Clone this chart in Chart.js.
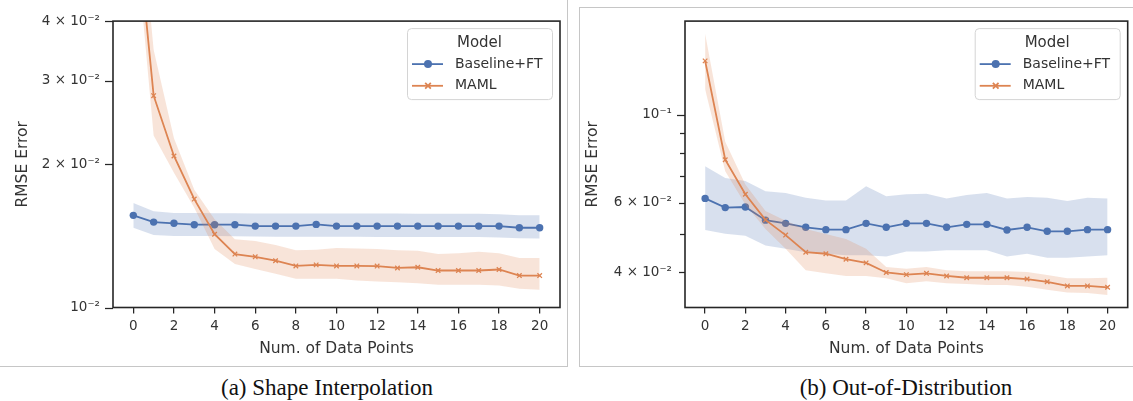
<!DOCTYPE html>
<html>
<head>
<meta charset="utf-8">
<script src="https://cdn.jsdelivr.net/npm/chart.js@4.4.1/dist/chart.umd.min.js"></script>
<style>
  html, body { margin: 0; padding: 0; background: #fff; }
  body { position: relative; width: 1133px; height: 401px; overflow: hidden; }
  .frame { position: absolute; border: 1px solid #c6c6c6; box-sizing: border-box; }
  canvas { position: absolute; }
  .cap { position: absolute; top: 374px; font-family: "Liberation Serif", "Times New Roman", serif;
         font-size: 23px; line-height: 28px; color: #111; white-space: nowrap; transform: translateX(-50%); }
</style>
</head>
<body>
<div class="frame" style="left:-10px; top:-10px; width:578px; height:377px;"></div>
<div class="frame" style="left:579px; top:7px; width:620px; height:360px;"></div>
<canvas id="shapeChart" width="566" height="370" style="left:0; top:0;"></canvas>
<canvas id="oodChart" width="554" height="370" style="left:579px; top:0;"></canvas>
<div class="cap" style="left:327px;">(a) Shape Interpolation</div>
<div class="cap" style="left:906px;">(b) Out-of-Distribution</div>

<script>
// Number of support points used for adaptation
const dataPoints = [0, 1, 2, 3, 4, 5, 6, 7, 8, 9, 10, 11, 12, 13, 14, 15, 16, 17, 18, 19, 20];
const xTickValues = [0, 2, 4, 6, 8, 10, 12, 14, 16, 18, 20];

// (a) Shape Interpolation — RMSE mean and confidence band
const shapeBaseline   = [0.01562, 0.01512, 0.01503, 0.01493, 0.01493, 0.01493, 0.01483, 0.01483, 0.01483, 0.01495, 0.01483,
                         0.01483, 0.01483, 0.01483, 0.01483, 0.01483, 0.01483, 0.01483, 0.01483, 0.01471, 0.01471];
const shapeBaselineHi = [0.01659, 0.01594, 0.01580, 0.01580, 0.01578, 0.01578, 0.01576, 0.01576, 0.01576, 0.01576, 0.01576,
                         0.01576, 0.01576, 0.01576, 0.01574, 0.01574, 0.01574, 0.01574, 0.01570, 0.01562, 0.01562];
const shapeBaselineLo = [0.01471, 0.01420, 0.01414, 0.01414, 0.01414, 0.01412, 0.01410, 0.01408, 0.01408, 0.01408, 0.01408,
                         0.01408, 0.01406, 0.01406, 0.01406, 0.01406, 0.01406, 0.01406, 0.01404, 0.01398, 0.01396];
const shapeMaml       = [0.0760, 0.02788, 0.02082, 0.01690, 0.01426, 0.01295, 0.01278, 0.01254, 0.01223, 0.01229, 0.01223,
                         0.01223, 0.01222, 0.01211, 0.01215, 0.01196, 0.01196, 0.01196, 0.01202, 0.01167, 0.01167];
const shapeMamlHi     = [0.1000, 0.0348, 0.0227, 0.01768, 0.01532, 0.01392, 0.01380, 0.01354, 0.01320, 0.01322, 0.01333,
                         0.01330, 0.01327, 0.01320, 0.01316, 0.01295, 0.01300, 0.01310, 0.01300, 0.01270, 0.01270];
const shapeMamlLo     = [0.0680, 0.0230, 0.0192, 0.01620, 0.01327, 0.01235, 0.01205, 0.01177, 0.01149, 0.01149, 0.01149,
                         0.01140, 0.01134, 0.01130, 0.01125, 0.01117, 0.01117, 0.01117, 0.01113, 0.01095, 0.01090];
const shapeYTicks  = [0.01, 0.02, 0.03, 0.04];
const shapeYLabels = ['10⁻²', '2 × 10⁻²', '3 × 10⁻²', '4 × 10⁻²'];

// (b) Out-of-Distribution — RMSE mean and confidence band
const oodBaseline   = [0.0615, 0.0583, 0.0585, 0.0542, 0.0532, 0.0520, 0.0513, 0.0513, 0.0532, 0.0520, 0.0532,
                       0.0532, 0.0520, 0.0529, 0.0529, 0.0512, 0.0520, 0.0508, 0.0508, 0.0513, 0.0513];
const oodBaselineHi = [0.0741, 0.0692, 0.0680, 0.0641, 0.0635, 0.0617, 0.0608, 0.0608, 0.0660, 0.0623, 0.0630,
                       0.0632, 0.0615, 0.0627, 0.0635, 0.0615, 0.0620, 0.0617, 0.0606, 0.0617, 0.0615];
const oodBaselineLo = [0.0512, 0.0501, 0.0495, 0.0468, 0.0459, 0.0450, 0.0446, 0.0442, 0.0442, 0.0439, 0.0452,
                       0.0452, 0.0455, 0.0455, 0.0455, 0.0439, 0.0446, 0.0436, 0.0436, 0.0439, 0.0442];
const oodMaml       = [0.1367, 0.0770, 0.0630, 0.0543, 0.0497, 0.0450, 0.0446, 0.0432, 0.0423, 0.0400, 0.0395,
                       0.0398, 0.0392, 0.0388, 0.0388, 0.0388, 0.0385, 0.0379, 0.0370, 0.0370, 0.0367];
const oodMamlHi     = [0.1600, 0.0855, 0.0667, 0.0572, 0.0540, 0.0515, 0.0500, 0.0486, 0.0459, 0.0413, 0.0409,
                       0.0413, 0.0405, 0.0403, 0.0403, 0.0403, 0.0401, 0.0394, 0.0387, 0.0387, 0.0388];
const oodMamlLo     = [0.1160, 0.0720, 0.0594, 0.0515, 0.0459, 0.0405, 0.0398, 0.0392, 0.0392, 0.0387, 0.0376,
                       0.0380, 0.0376, 0.0374, 0.0372, 0.0372, 0.0368, 0.0362, 0.0356, 0.0355, 0.0351];
const oodYTicks  = [0.04, 0.06, 0.1];
const oodYLabels = ['4 × 10⁻²', '6 × 10⁻²', '10⁻¹'];
const oodYMinor  = [0.05, 0.07, 0.08, 0.09];

const seriesNames = ['Baseline+FT', 'MAML'];
const legendTitle = 'Model';

const BLUE = '#4C72B0', ORANGE = '#DD8452';
const BLUE_BAND = 'rgba(76,114,176,0.22)', ORANGE_BAND = 'rgba(221,132,82,0.22)';
const INK = '#262626', TEXT = '#333333';
const FONT = '"DejaVu Sans", Verdana, sans-serif';

const toPoints = ys => ys.map((y, i) => ({ x: dataPoints[i], y }));

function band(hi, lo, color, order) {
  const common = { borderWidth: 0, borderColor: 'transparent', pointRadius: 0, pointHoverRadius: 0, order };
  return [
    Object.assign({ data: toPoints(hi), fill: '+1', backgroundColor: color }, common),
    Object.assign({ data: toPoints(lo), fill: false, backgroundColor: 'transparent' }, common)
  ];
}

function buildDatasets(base, baseHi, baseLo, maml, mamlHi, mamlLo) {
  return [
    ...band(baseHi, baseLo, BLUE_BAND, 5),
    { label: seriesNames[0], legendRank: 0, data: toPoints(base), borderColor: BLUE, backgroundColor: BLUE,
      borderWidth: 1.8, pointStyle: 'circle', pointRadius: 3.7, pointBorderWidth: 0, fill: false, order: 4,
      marker: { pointStyle: 'circle', radius: 4, borderWidth: 0 } },
    ...band(mamlHi, mamlLo, ORANGE_BAND, 3),
    { label: seriesNames[1], legendRank: 1, data: toPoints(maml), borderColor: ORANGE, backgroundColor: ORANGE,
      borderWidth: 1.8, pointStyle: 'crossRot', pointRadius: 3.2, pointBorderWidth: 1.3, fill: false, order: 2,
      marker: { pointStyle: 'crossRot', radius: 4, borderWidth: 2.6 } }
  ];
}

// Box spines on all four sides plus hand-sized y tick marks
const axesFrame = {
  id: 'axesFrame',
  afterDatasetsDraw(chart, args, opts) {
    const { ctx, chartArea: a } = chart;
    const y = chart.scales.y;
    ctx.save();
    ctx.strokeStyle = INK;
    ctx.lineWidth = 1.25;
    (opts.marks || []).forEach(m => {
      const py = Math.round(y.getPixelForValue(m.value)) + 0.5;
      ctx.beginPath();
      ctx.moveTo(a.left - m.len, py);
      ctx.lineTo(a.left, py);
      ctx.stroke();
    });
    ctx.lineWidth = 1.6;
    ctx.strokeRect(a.left, a.top, a.right - a.left, a.bottom - a.top);
    ctx.restore();
  }
};

// Legend box with line + marker samples, titled "Model"
const modelLegend = {
  id: 'modelLegend',
  afterDraw(chart) {
    const { ctx, chartArea: a } = chart;
    const w = 145, h = 71;
    const x0 = a.right - 8 - w, y0 = a.top + 7;
    ctx.save();
    ctx.beginPath();
    ctx.roundRect(x0 + 0.5, y0 + 0.5, w, h, 4);
    ctx.fillStyle = 'rgba(255,255,255,0.85)';
    ctx.fill();
    ctx.strokeStyle = '#d4d4d4';
    ctx.lineWidth = 1;
    ctx.stroke();

    ctx.fillStyle = TEXT;
    ctx.textBaseline = 'middle';
    ctx.textAlign = 'center';
    ctx.font = '15px ' + FONT;
    ctx.fillText(legendTitle, x0 + w / 2, y0 + 15);

    const entries = chart.data.datasets.filter(d => d.legendRank !== undefined)
      .sort((p, q) => p.legendRank - q.legendRank);
    entries.forEach((d, i) => {
      const cy = y0 + 36 + i * 21.7;
      ctx.strokeStyle = d.borderColor;
      ctx.lineWidth = 1.8;
      ctx.beginPath();
      ctx.moveTo(x0 + 5, cy);
      ctx.lineTo(x0 + 36, cy);
      ctx.stroke();
      ctx.fillStyle = d.borderColor;
      Chart.helpers.drawPoint(ctx, Object.assign({ rotation: 0 }, d.marker), x0 + 21, cy);
      ctx.fillStyle = TEXT;
      ctx.textAlign = 'left';
      ctx.font = '14px ' + FONT;
      ctx.fillText(d.label, x0 + 48, cy);
    });
    ctx.restore();
  }
};

function makeChart(id, cfg) {
  return new Chart(document.getElementById(id), {
    type: 'line',
    data: { datasets: cfg.datasets },
    plugins: [axesFrame, modelLegend],
    options: {
      responsive: false,
      animation: false,
      events: [],
      layout: { padding: { left: 0, top: 18, right: cfg.padRight, bottom: 0 } },
      plugins: {
        legend: { display: false },
        tooltip: { enabled: false },
        axesFrame: { marks: cfg.marks }
      },
      scales: {
        x: {
          type: 'linear', min: -1, max: 21,
          afterBuildTicks: s => { s.ticks = xTickValues.map(v => ({ value: v })); },
          afterFit: s => { s.height = 62.5; },
          ticks: { font: { family: FONT, size: 13.5 }, color: TEXT, padding: 5, maxRotation: 0, autoSkip: false,
                   callback: v => String(v) },
          grid: { display: true, drawOnChartArea: false, drawTicks: true, tickLength: 6, color: INK, lineWidth: 1.25 },
          border: { display: false },
          title: { display: true, text: 'Num. of Data Points', color: TEXT,
                   font: { family: FONT, size: 15.5 }, padding: { top: 0, bottom: 11.5 } }
        },
        y: {
          type: 'logarithmic', min: cfg.yMin, max: cfg.yMax,
          afterBuildTicks: s => { s.ticks = cfg.yTicks.map(v => ({ value: v })); },
          afterFit: s => { s.width = cfg.yWidth; },
          ticks: { font: { family: FONT, size: 13.5 }, color: TEXT, padding: 13, autoSkip: false,
                   callback: (v, i) => cfg.yLabels[i] },
          grid: { display: false, drawTicks: false },
          border: { display: false },
          title: { display: true, text: 'RMSE Error', color: TEXT,
                   font: { family: FONT, size: 15.5 }, padding: { top: cfg.yTitlePad, bottom: 0 } }
        }
      }
    }
  });
}

makeChart('shapeChart', {
  datasets: buildDatasets(shapeBaseline, shapeBaselineHi, shapeBaselineLo, shapeMaml, shapeMamlHi, shapeMamlLo),
  yMin: 0.01, yMax: 0.04, yTicks: shapeYTicks, yLabels: shapeYLabels,
  marks: shapeYTicks.map(v => ({ value: v, len: 8 })),
  yWidth: 113, yTitlePad: 14, padRight: 6
});

makeChart('oodChart', {
  datasets: buildDatasets(oodBaseline, oodBaselineHi, oodBaselineLo, oodMaml, oodMamlHi, oodMamlLo),
  yMin: 0.03264, yMax: 0.1722, yTicks: oodYTicks, yLabels: oodYLabels,
  marks: oodYTicks.map(v => ({ value: v, len: v === 0.1 ? 8 : 6 })).concat(oodYMinor.map(v => ({ value: v, len: 5 }))),
  yWidth: 106, yTitlePad: 5, padRight: 1.5
});
</script>
</body>
</html>
